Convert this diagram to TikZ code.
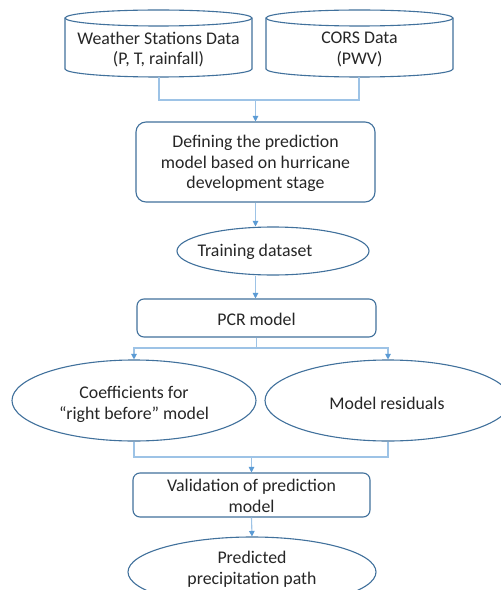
\documentclass[tikz,border=0pt]{standalone}
\usepackage{fontspec}
\setmainfont{Carlito}
\usetikzlibrary{arrows.meta,shapes.geometric}
\definecolor{outl}{HTML}{41719C}
\definecolor{connc}{HTML}{9DC3E6}
\definecolor{tipc}{HTML}{5B9BD5}
\definecolor{txtc}{HTML}{262626}
\tikzset{
  txt/.style={align=center,text=txtc,font=\fontsize{17.8bp}{20.8bp}\selectfont,inner sep=0pt},
  rbox/.style={draw=outl,line width=1.1bp,rounded corners=7bp,rectangle},
  ell/.style={draw=outl,line width=1.1bp,ellipse,inner sep=0pt},
  conn/.style={draw=connc,line width=1.1bp},
  arr/.style={conn,-{Triangle[length=5.5bp,width=5.5bp,color=tipc]}},
}
\begin{document}
\begin{tikzpicture}[x=1bp,y=-1bp]
\useasboundingbox (0,0) rectangle (501,590);
\clip (0,0) rectangle (501,590);
\fill[white] (0,0) rectangle (501,590);
% cylinders
\foreach \cx in {158.5,359.5}{
  \draw[outl,line width=1.1bp,fill=white]
    (\cx-93.5,18) -- (\cx-93.5,69) arc[start angle=180,end angle=0,x radius=93.5,y radius=8]
    -- (\cx+93.5,18) arc[start angle=0,end angle=-180,x radius=93.5,y radius=8] -- cycle;
  \draw[outl,line width=1.1bp] (\cx-93.5,18) arc[start angle=180,end angle=0,x radius=93.5,y radius=8];
}
\node[txt] (cyl1) at (158.5,49.5) {Weather Stations Data\\(P, T, rainfall)};
\node[txt] (cyl2) at (359.5,49.5) {CORS Data\\(PWV)};
\coordinate (c1b) at (159,77);
\coordinate (c2b) at (359,77);
\coordinate (j1) at (255.5,100);
% boxes and ellipses
\node[rbox,rounded corners=10bp,minimum width=239bp,minimum height=80bp] (def) at (255.5,162) {};
\node[txt] (deft) at (255.5,163.5) {Defining the prediction\\model based on hurricane\\development stage};
\node[ell,minimum width=192bp,minimum height=48bp] (train) at (273,251) {};
\node[txt] (traint) at (255,252) {Training dataset};
\node[rbox,minimum width=239bp,minimum height=38bp] (pcr) at (256.5,318) {};
\node[txt] (pcrt) at (256.5,319) {PCR model};
\node[ell,minimum width=244bp,minimum height=81bp] (coef) at (134,400.5) {};
\node[txt] (coeft) at (134,404) {Coefficients for\\``right before'' model};
\node[ell,minimum width=246bp,minimum height=81bp] (resid) at (388,400.5) {};
\node[txt] (residt) at (387,403) {Model residuals};
\node[rbox,minimum width=237bp,minimum height=44bp] (valid) at (251.5,495) {};
\node[txt] (validt) at (251.5,496) {Validation of prediction\\model};
\node[ell,minimum width=248bp,minimum height=70bp] (pred) at (252,572) {};
\node[txt] (predt) at (252,569) {Predicted\\precipitation path};
% connectors
\draw[conn] (c1b) |- (j1) -| (c2b);
\draw[arr] (j1) -- (def.north);
\draw[arr] (def.south) -- (def.south |- train.north);
\draw[arr] (def.south |- train.south) -- (def.south |- pcr.north);
\coordinate (j2) at (256.5,348);
\draw[conn] (pcr.south) -- (j2);
\draw[arr] (j2) -| (coef.north);
\draw[arr] (j2) -| (resid.north);
\coordinate (j3) at (251.5,457);
\draw[conn] (coef.south) |- (j3) -| (resid.south);
\draw[arr] (j3) -- (valid.north);
\draw[arr] (valid.south) -- (pred.north);
\end{tikzpicture}
\end{document}
